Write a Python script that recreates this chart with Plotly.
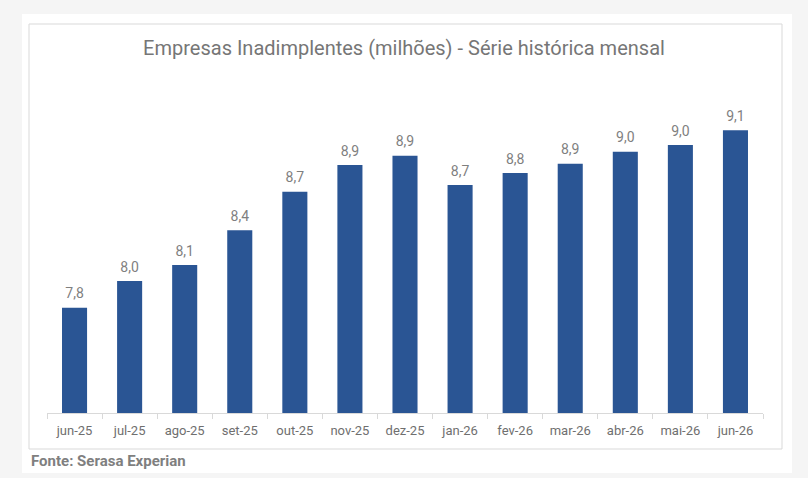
import plotly.graph_objects as go

# data (millions of companies)
months = ["jun-25", "jul-25", "ago-25", "set-25", "out-25", "nov-25", "dez-25",
          "jan-26", "fev-26", "mar-26", "abr-26", "mai-26", "jun-26"]
companies = [7.79, 7.99, 8.11, 8.37, 8.66, 8.86, 8.93,
             8.71, 8.80, 8.87, 8.96, 9.01, 9.12]

TITLE = "Empresas Inadimplentes (milhões) - Série histórica mensal"
SOURCE = "Fonte: Serasa Experian"

BAR_COLOR = "#2a5594"
TEXT_GREY = "#7f7f7f"
LINE_GREY = "#d9d9d9"

W, H = 808, 478
# plot area in pixels
PL, PR, PT, PB = 47, 763, 113, 413


def px_x(x):
    return (x - PL) / (PR - PL)


def px_y(y):
    return (PB - y) / (PB - PT)


fig = go.Figure()
fig.add_trace(go.Bar(
    x=months, y=companies,
    marker=dict(color=BAR_COLOR, line=dict(width=0)),
    hovertemplate="%{x}: %{y:.1f}<extra></extra>",
))
# value labels: invisible markers push the text a bit further above the bar tops
fig.add_trace(go.Scatter(
    x=months, y=companies, mode="markers+text",
    marker=dict(size=8, opacity=0), hoverinfo="skip", cliponaxis=False,
    texttemplate="%{y:.1f}", textposition="top center",
    textfont=dict(family="Roboto", size=14, color=TEXT_GREY),
))

# white card + thin grey frame around the chart
fig.add_shape(type="rect", xref="paper", yref="paper", layer="below",
              x0=px_x(22), x1=px_x(792), y0=px_y(473), y1=px_y(14),
              fillcolor="white", line=dict(width=0))
fig.add_shape(type="rect", xref="paper", yref="paper", layer="below",
              x0=px_x(29), x1=px_x(782), y0=px_y(449), y1=px_y(24),
              fillcolor="rgba(0,0,0,0)", line=dict(color=LINE_GREY, width=1))

fig.add_annotation(text=SOURCE, xref="paper", yref="paper", showarrow=False,
                   x=px_x(29), y=px_y(461), xanchor="left", yanchor="middle",
                   font=dict(family="Roboto", size=15, color=TEXT_GREY, weight="bold"))

fig.update_layout(
    width=W, height=H,
    margin=dict(l=PL, r=W - PR, t=PT, b=H - PB),
    paper_bgcolor="#f5f5f5", plot_bgcolor="rgba(0,0,0,0)",
    separators=",.",
    bargap=0.545,
    showlegend=False,
    title=dict(text=TITLE, x=0.5, xref="container", xanchor="center",
               y=1 - 48 / H, yref="container", yanchor="middle",
               font=dict(family="Roboto", size=20, color="#767676")),
    font=dict(family="Roboto"),
)
fig.update_xaxes(range=[-0.5, len(months) - 0.5],
                 showline=True, linecolor=LINE_GREY, linewidth=1,
                 ticks="outside", tickson="boundaries", ticklen=5, tickcolor=LINE_GREY,
                 ticklabelstandoff=5,
                 tickfont=dict(family="Roboto", size=13, color="#6f6f6f"),
                 showgrid=False)
fig.update_yaxes(range=[7.0, 9.25], visible=False, showgrid=False)

# drop the default body margin so the figure sits at the window's corner
fig.write_html("out.html", config={"displayModeBar": False},
               post_script="document.body.style.margin = '0';")
